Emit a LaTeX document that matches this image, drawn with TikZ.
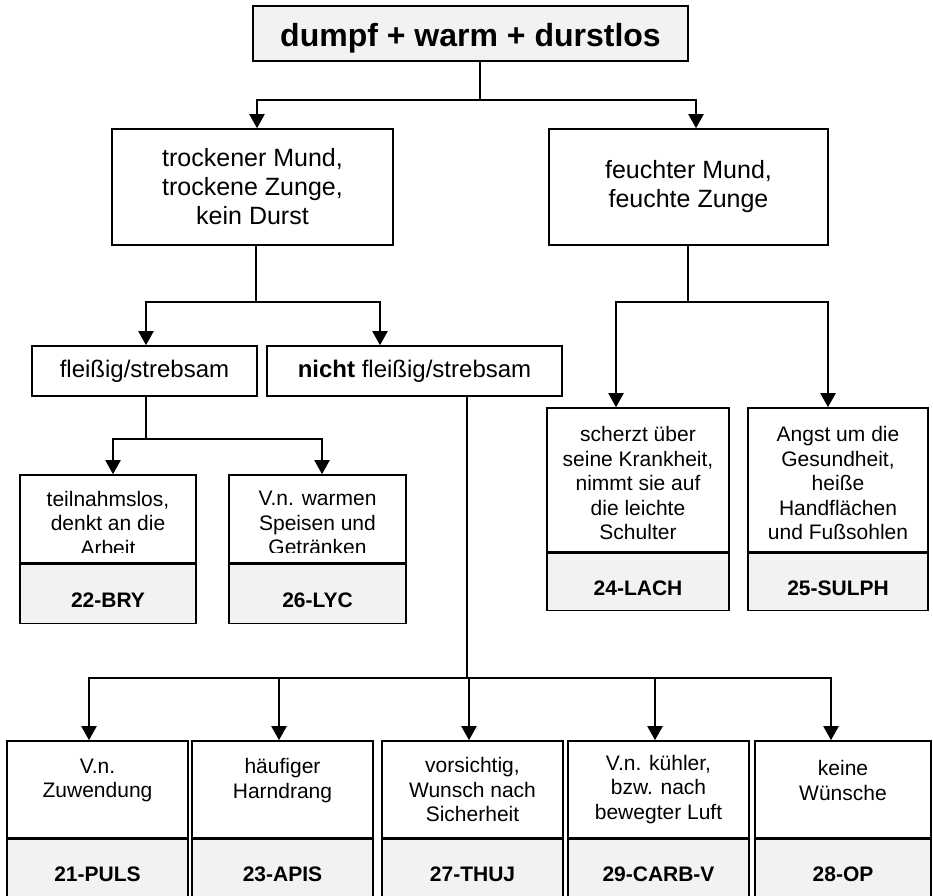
\documentclass[tikz,border=0pt]{standalone}
\usepackage{fontspec}
\setmainfont{Liberation Sans}
\usetikzlibrary{arrows.meta,positioning}

\begin{document}
\begin{tikzpicture}[x=1pt,y=-1pt,>={Triangle[length=14pt,width=15pt]}]
\tikzset{
  frame/.style={draw,line width=1.6pt,inner sep=0pt},
  head/.style={frame,fill=gray!10,minimum width=435pt,minimum height=55pt,text height=33pt,font=\fontsize{32}{38}\selectfont\bfseries},
  branch/.style={frame,align=center,minimum height=116pt,font=\fontsize{25}{29}\selectfont},
  choice/.style={frame,minimum height=50pt,font=\fontsize{24}{28}\selectfont},
  leaf/.style={frame,fill=white},
  remedy/.style={frame,fill=gray!10,font=\fontsize{21}{24}\selectfont\bfseries},
  leaftext/.style={align=center,inner sep=0pt,font=\fontsize{21}{24.5}\selectfont},
  trunk/.style={line width=1.3pt},
  bar/.style={line width=2pt}
}
\clip (0,0) rectangle (933,895);
\coordinate (j0) at (480,100);
\coordinate (j1) at (256,302);
\coordinate (j2) at (688,302);
\coordinate (j3) at (146,439);
\coordinate (j4) at (467,678);

% upper levels
\node[head] (top) at (470.5,33.5) {dumpf + warm + durstlos};
\node[branch,minimum width=281pt] (dry) at (252.5,187) {trockener Mund,\\trockene Zunge,\\kein Durst};
\node[branch,minimum width=279pt] (wet) at (688.5,187) {feuchter Mund,\\feuchte Zunge};
\node[choice,minimum width=225pt] (fleiss) at (144.5,371) {fleißig/strebsam};
\node[choice,minimum width=295pt] (nicht) at (414.5,371) {\textbf{nicht} fleißig/strebsam};

% fleissig
\node[leaf,minimum width=176pt,minimum height=88pt] (bry) at (108,519) {};
\begin{scope}
\clip (bry.north west) rectangle ([yshift=11pt]bry.south east);
\node[leaftext] (bry-t) at ([yshift=-4pt]bry.center) {teilnahmslos,\\denkt an die\\Arbeit};
\end{scope}
\node[remedy,minimum width=176pt,minimum height=59pt,text height=27pt,below=0pt of bry] (bry-no) {22-BRY};
\node[leaf,minimum width=177pt,minimum height=88pt] (lyc) at (317.5,519) {};
\begin{scope}
\clip (lyc.north west) rectangle ([yshift=11pt]lyc.south east);
\node[leaftext] (lyc-t) at ([yshift=-4pt]lyc.center) {V.n. warmen\\Speisen und\\Getränken};
\end{scope}
\node[remedy,minimum width=177pt,minimum height=59pt,text height=27pt,below=0pt of lyc] (lyc-no) {26-LYC};

% feucht
\node[leaf,minimum width=182pt,minimum height=144pt] (lach) at (638,480) {};
\node[leaftext] (lach-t) at ([yshift=-3pt]lach.center) {scherzt über\\seine Krankheit,\\nimmt sie auf\\die leichte\\Schulter};
\node[remedy,minimum width=182pt,minimum height=57pt,text height=27pt,below=0pt of lach] (lach-no) {24-LACH};
\node[leaf,minimum width=180pt,minimum height=144pt] (sulph) at (838,480) {};
\node[leaftext] (sulph-t) at ([yshift=-3pt]sulph.center) {Angst um die\\Gesundheit,\\heiße\\Handflächen\\und Fußsohlen};
\node[remedy,minimum width=180pt,minimum height=57pt,text height=27pt,below=0pt of sulph] (sulph-no) {25-SULPH};

% nicht fleissig
\node[leaf,minimum width=181pt,minimum height=97pt] (puls) at (97.5,789.5) {};
\node[leaftext] (puls-t) at ([yshift=9pt]puls.center) {V.n.\\Zuwendung};
\node[remedy,minimum width=181pt,minimum height=69pt,below=0pt of puls] (puls-no) {21-PULS};
\node[leaf,minimum width=181pt,minimum height=97pt] (apis) at (282.5,789.5) {};
\node[leaftext] (apis-t) at ([yshift=9pt]apis.center) {häufiger\\Harndrang};
\node[remedy,minimum width=181pt,minimum height=69pt,below=0pt of apis] (apis-no) {23-APIS};
\node[leaf,minimum width=181pt,minimum height=97pt] (thuj) at (472.5,789.5) {};
\node[leaftext] (thuj-t) at (thuj.center) {vorsichtig,\\Wunsch nach\\Sicherheit};
\node[remedy,minimum width=181pt,minimum height=69pt,below=0pt of thuj] (thuj-no) {27-THUJ};
\node[leaf,minimum width=181pt,minimum height=97pt] (carb) at (658.5,789.5) {};
\node[leaftext] (carb-t) at (carb.center) {V.n. kühler,\\bzw. nach\\bewegter Luft};
\node[remedy,minimum width=181pt,minimum height=69pt,below=0pt of carb] (carb-no) {29-CARB-V};
\node[leaf,minimum width=176pt,minimum height=97pt] (op) at (843,789.5) {};
\node[leaftext] (op-t) at ([yshift=9pt]op.center) {keine\\Wünsche};
\node[remedy,minimum width=176pt,minimum height=69pt,below=0pt of op] (op-no) {28-OP};

\tikzset{-}
\draw[trunk] (top.south -| j0) -- (j0);
\draw[trunk] (dry.south -| j1) -- (j1);
\draw[trunk] (wet.south -| j2) -- (j2);
\draw[trunk] (fleiss.south -| j3) -- (j3);
\draw[trunk] (nicht.south -| j4) -- (j4);
\tikzset{->}
\draw[bar] (j0) -| ([xshift=4.5pt]dry.north);
\draw[bar] (j0) -| ([xshift=7.5pt]wet.north);
\draw[bar] (j1) -| ([xshift=1.5pt]fleiss.north);
\draw[bar] (j1) -| ([xshift=-34.5pt]nicht.north);
\draw[bar] (j2) -| ([xshift=-22pt]lach.north);
\draw[bar] (j2) -| ([xshift=-10pt]sulph.north);
\draw[bar] (j3) -| ([xshift=5pt]bry.north);
\draw[bar] (j3) -| ([xshift=4.5pt]lyc.north);
\draw[bar] (j4) -| ([xshift=-8.5pt]puls.north);
\draw[bar] (j4) -| ([xshift=-3.5pt]apis.north);
\draw[bar] (j4) -| ([xshift=-3.5pt]thuj.north);
\draw[bar] (j4) -| ([xshift=-3.5pt]carb.north);
\draw[bar] (j4) -| ([xshift=-12pt]op.north);
\end{tikzpicture}
\end{document}
